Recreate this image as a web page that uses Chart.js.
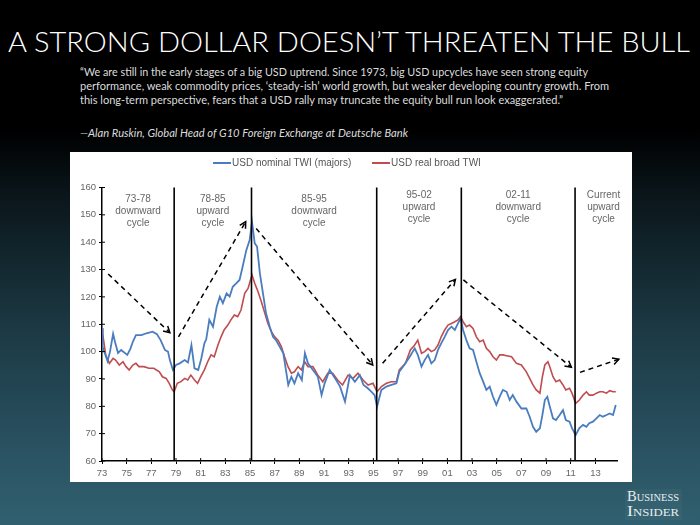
<!DOCTYPE html>
<html>
<head>
<meta charset="utf-8">
<script src="https://cdn.jsdelivr.net/npm/chart.js@4.4.1/dist/chart.umd.min.js"></script>
<style>
  html, body { margin: 0; padding: 0; }
  body {
    width: 700px; height: 525px; overflow: hidden; position: relative;
    background: linear-gradient(180deg, #000 0px, #000 130px, #0b171c 200px, #1c3944 330px, #2a5262 450px, #30606f 525px);
    font-family: Lato, 'Open Sans', sans-serif;
  }
  .fit { position: absolute; white-space: nowrap; transform-origin: 0 0; }
  #title { left: 8px; top: 27px; font-size: 28px; line-height: 28px; color: #fff; font-weight: 300; }
  .quote { left: 80px; font-size: 11px; line-height: 13.8px; color: #dcdcdc; }
  #panel { position: absolute; left: 70px; top: 152px; width: 562px; height: 330px; background: #fff; }
  #chart { position: absolute; left: 0; top: 0; }
  .leg { position: absolute; top: 5px; font: 10px 'Liberation Sans', Arial, sans-serif; color: #555; white-space: nowrap; }
  .leg i { display: inline-block; width: 18px; height: 0; border-top: 2px solid; vertical-align: middle; margin-right: 1px; }
  #bi { position: absolute; left: 625px; top: 489px; width: 57px; height: 31px; background: rgba(255,255,255,0.03); }
  .bi { left: 627px; font-family: 'Liberation Serif', 'DejaVu Serif', serif; font-variant: small-caps; font-size: 14px; line-height: 14px; color: #e8eef0; }
</style>
</head>
<body>
<div id="title" class="fit" data-w="682">A STRONG DOLLAR DOESN’T THREATEN THE BULL</div>
<div class="fit quote" style="top:65px" data-w="508">“We are still in the early stages of a big USD uptrend. Since 1973, big USD upcycles have seen strong equity</div>
<div class="fit quote" style="top:79px" data-w="529">performance, weak commodity prices, ‘steady-ish’ world growth, but weaker developing country growth. From</div>
<div class="fit quote" style="top:92.5px" data-w="483">this long-term perspective, fears that a USD rally may truncate the equity bull run look exaggerated.”</div>
<div class="fit quote" style="top:126px; font-style:italic" data-w="328">—Alan Ruskin, Global Head of G10 Foreign Exchange at Deutsche Bank</div>

<div id="panel">
  <canvas id="chart" width="562" height="330"></canvas>
  <div class="leg" style="left:143px"><i style="color:#4a7dbf"></i>USD nominal TWI (majors)</div>
  <div class="leg" style="left:302px"><i style="color:#bf4c4f"></i>USD real broad TWI</div>
</div>

<div id="bi"></div>
<div class="fit bi" style="top:490px" data-w="52">Business</div>
<div class="fit bi" style="top:505px" data-w="52">Insider</div>

<script>
const nominalYears = [
  1973.0, 1973.05, 1973.45, 1973.65, 1973.9, 1974.05, 1974.3, 1974.55, 1975.05, 1975.3,
  1975.5, 1975.75, 1976.2, 1976.6, 1977.1, 1977.45, 1977.75, 1978.1, 1978.35, 1978.5,
  1978.75, 1979.0, 1979.3, 1979.7, 1979.97, 1980.25, 1980.5, 1980.8, 1981.05, 1981.3,
  1981.45, 1981.7, 1982.0, 1982.3, 1982.55, 1982.8, 1983.1, 1983.35, 1983.6, 1983.9,
  1984.15, 1984.4, 1984.7, 1984.97, 1985.16, 1985.38, 1985.57, 1985.8, 1986.05, 1986.3,
  1986.6, 1986.86, 1987.1, 1987.4, 1987.7, 1987.95, 1988.1, 1988.35, 1988.6, 1988.9,
  1989.2, 1989.45, 1989.7, 1990.1, 1990.5, 1990.8, 1991.05, 1991.46, 1991.9, 1992.3,
  1992.7, 1993.1, 1993.5, 1993.9, 1994.2, 1994.55, 1994.85, 1995.1, 1995.3, 1995.65,
  1996.06, 1996.46, 1996.87, 1997.1, 1997.5, 1997.95, 1998.35, 1998.6, 1998.9, 1999.16,
  1999.43, 1999.7, 1999.97, 2000.24, 2000.5, 2000.78, 2001.05, 2001.33, 2001.6, 2001.86,
  2002.08, 2002.27, 2002.54, 2002.8, 2003.08, 2003.35, 2003.62, 2003.9, 2004.16, 2004.43,
  2004.7, 2004.97, 2005.24, 2005.5, 2005.8, 2006.05, 2006.3, 2006.6, 2007.0, 2007.4,
  2007.67, 2007.94, 2008.2, 2008.5, 2008.7, 2008.9, 2009.1, 2009.3, 2009.56, 2009.8,
  2010.1, 2010.37, 2010.6, 2010.9, 2011.1, 2011.4, 2011.7, 2012.0, 2012.27, 2012.5,
  2012.8, 2013.08, 2013.35, 2013.6, 2013.9, 2014.16, 2014.43, 2014.65
];
const nominalTwi = [
  108.5, 101.8, 96.5, 100, 106.5, 103.6, 99.5, 100.6, 98.8, 101,
  103.6, 106, 106, 106.7, 107.3, 106.4, 104.2, 100.6, 100, 96.9,
  93.3, 95.1, 95.7, 96.9, 96, 102.4, 93.9, 93.3, 97.5, 103,
  104.5, 111.6, 109.1, 116.4, 120.1, 117.7, 121.3, 120.1, 123.7, 125,
  126.2, 131, 137.1, 140.8, 147.5, 139.6, 138.4, 128.6, 121.3, 114,
  109.1, 105.4, 104.2, 101.8, 99.4, 92.1, 87.8, 90.8, 88.4, 92.1,
  89.6, 99.4, 95.7, 93.3, 90.8, 84.1, 88.4, 93.3, 90.2, 87.2,
  81.7, 91.4, 89, 91.4, 87.8, 86.6, 85.3, 84.1, 79.9, 86,
  87.2, 87.8, 88.4, 92.6, 95.1, 98.1, 101.2, 98.8, 94.5, 96.9,
  98.8, 95.7, 96.9, 100.6, 103, 105.4, 107.9, 109.1, 107.9, 110.3,
  112.2, 107.9, 104.2, 101.2, 100.6, 96.3, 92.1, 89, 86, 87.2,
  83.5, 80.5, 83.5, 86, 85.3, 82.3, 84.1, 81.7, 79.2, 79.2,
  76.2, 72.5, 70.7, 72, 76.8, 82.3, 83.5, 79.9, 75.6, 75,
  76.8, 78.6, 75, 74.4, 72, 69.5, 72, 73.2, 72.5, 73.8,
  74.4, 75.6, 76.8, 76.2, 76.8, 77.4, 76.8, 80.5
];

const realYears = [
  1973.0, 1973.05, 1973.3, 1973.6, 1973.9, 1974.1, 1974.4, 1974.7, 1974.95, 1975.2,
  1975.5, 1975.75, 1976.0, 1976.4, 1976.8, 1977.2, 1977.65, 1977.9, 1978.2, 1978.45,
  1978.7, 1978.85, 1979.1, 1979.4, 1979.7, 1979.95, 1980.2, 1980.5, 1980.75, 1981.0,
  1981.3, 1981.57, 1981.84, 1982.1, 1982.4, 1982.65, 1982.9, 1983.2, 1983.45, 1983.73,
  1984.0, 1984.27, 1984.57, 1984.84, 1985.16, 1985.38, 1985.65, 1985.92, 1986.2, 1986.45,
  1986.73, 1987.0, 1987.27, 1987.54, 1987.8, 1988.08, 1988.35, 1988.6, 1988.9, 1989.16,
  1989.43, 1989.7, 1990.1, 1990.5, 1990.9, 1991.3, 1991.7, 1992.1, 1992.5, 1992.95,
  1993.35, 1993.75, 1994.16, 1994.57, 1994.97, 1995.3, 1995.65, 1996.06, 1996.46, 1996.87,
  1997.1, 1997.6, 1998.0, 1998.35, 1998.6, 1998.9, 1999.16, 1999.43, 1999.7, 1999.97,
  2000.24, 2000.5, 2000.78, 2001.05, 2001.33, 2001.6, 2001.86, 2002.08, 2002.27, 2002.54,
  2002.8, 2003.08, 2003.35, 2003.62, 2003.9, 2004.16, 2004.43, 2004.7, 2004.97, 2005.24,
  2005.5, 2005.8, 2006.2, 2006.6, 2007.0, 2007.4, 2007.67, 2007.94, 2008.2, 2008.5,
  2008.7, 2008.9, 2009.15, 2009.3, 2009.56, 2009.8, 2010.1, 2010.37, 2010.6, 2010.9,
  2011.1, 2011.4, 2011.7, 2012.0, 2012.27, 2012.5, 2012.8, 2013.08, 2013.35, 2013.6,
  2013.9, 2014.16, 2014.43, 2014.65
];
const realTwi = [
  108.5, 106.7, 98.8, 95.7, 97.5, 96.9, 95.1, 96.3, 94.5, 93.3,
  95.1, 95.7, 94.5, 94.5, 93.9, 93.9, 92.6, 90.8, 90.2, 88.4,
  86, 85.3, 88.4, 89, 90.2, 89.6, 91.4, 89.6, 88.4, 90.8,
  93.3, 96.3, 98.8, 98.1, 102.4, 105.4, 107.9, 109.7, 111.6, 113.4,
  112.8, 115.2, 121.3, 123.1, 128, 125, 121.9, 118.2, 114, 110.3,
  107.3, 105.4, 104.2, 101.8, 98.1, 94.5, 92.1, 92.6, 94.5, 93.3,
  96.3, 94.5, 94.5, 91.4, 89, 92.1, 92.1, 89.6, 87.8, 91.4,
  90.2, 92.1, 89.6, 87.8, 88.4, 85.3, 87.2, 88.4, 89, 89,
  93.3, 95.7, 100.6, 102.4, 104.2, 99.4, 100, 101.2, 100, 100.6,
  102.4, 105.4, 107.9, 109.7, 110.3, 110.9, 111.6, 112.8, 110.9, 109.1,
  109.7, 108.5, 105.4, 103.6, 104.2, 101.2, 100, 98.1, 96.9, 98.8,
  98.8, 98.5, 98.1, 95.7, 95.1, 92.6, 90.2, 87.8, 86, 84.8,
  90.8, 95.1, 96.3, 94.5, 90.8, 89, 89.6, 87.8, 86, 86.6,
  84.8, 81.1, 82.3, 84.1, 85.3, 84.1, 84.1, 84.8, 85.3, 85.3,
  84.8, 85.7, 85.3, 85.3
];

const xTickYears = [1973, 1975, 1977, 1979, 1981, 1983, 1985, 1987, 1989, 1991, 1993,
  1995, 1997, 1999, 2001, 2003, 2005, 2007, 2009, 2011, 2013];

const cycleBreaks = [1978.85, 1985.12, 1995.27, 2002.13, 2011.35];
const cycleNames = [
  ['73-78', 'downward', 'cycle'],
  ['78-85', 'upward', 'cycle'],
  ['85-95', 'downward', 'cycle'],
  ['95-02', 'upward', 'cycle'],
  ['02-11', 'downward', 'cycle'],
  ['Current', 'upward', 'cycle']
];

// dashed trend arrows, [year, index]
const arrowFrom = [[1973.5, 128.4], [1979.2, 105.4], [1985.5, 145], [1995.75, 95.7], [2002.3, 126.2], [2011.75, 92.4]];
const arrowTo = [[1978.5, 106.9], [1984.65, 147.5], [1994.95, 95.1], [2001.65, 126.4], [2011.05, 94.3], [2014.9, 97.2]];

const blue = '#4a7dbf';
const red = '#bf4c4f';

Chart.defaults.font.family = "'Liberation Sans', Arial, sans-serif";
Chart.defaults.color = '#666';

const overlay = {
  id: 'overlay',
  afterDatasetsDraw(chart) {
    const {ctx, chartArea, scales: {x, y}} = chart;
    ctx.save();

    // cycle separators
    ctx.strokeStyle = '#000';
    ctx.lineWidth = 1.6;
    cycleBreaks.forEach(yr => {
      const px = x.getPixelForValue(yr);
      ctx.beginPath();
      ctx.moveTo(px, y.getPixelForValue(160));
      ctx.lineTo(px, y.getPixelForValue(60));
      ctx.stroke();
    });

    // cycle names
    const edges = [x.min, ...cycleBreaks];
    ctx.fillStyle = '#666';
    ctx.font = "10px 'Liberation Sans', Arial, sans-serif";
    ctx.textAlign = 'center';
    ctx.textBaseline = 'middle';
    cycleNames.forEach((lines, i) => {
      const left = x.getPixelForValue(edges[i]);
      const right = i + 1 < edges.length ? x.getPixelForValue(edges[i + 1]) : chart.width;
      const cx = (left + right) / 2;
      const top = chartArea.top + (i < 3 ? 11.5 : 7.5);
      lines.forEach((t, j) => ctx.fillText(t, cx, top + j * 12));
    });

    // arrows
    ctx.lineWidth = 1.5;
    arrowFrom.forEach((a, i) => {
      const x0 = x.getPixelForValue(a[0]), y0 = y.getPixelForValue(a[1]);
      const x1 = x.getPixelForValue(arrowTo[i][0]), y1 = y.getPixelForValue(arrowTo[i][1]);
      ctx.setLineDash([5, 4]);
      ctx.beginPath();
      ctx.moveTo(x0, y0);
      ctx.lineTo(x1, y1);
      ctx.stroke();
      const ang = Math.atan2(y1 - y0, x1 - x0);
      ctx.setLineDash([]);
      ctx.beginPath();
      ctx.moveTo(x1 - 7 * Math.cos(ang - 0.5), y1 - 7 * Math.sin(ang - 0.5));
      ctx.lineTo(x1, y1);
      ctx.lineTo(x1 - 7 * Math.cos(ang + 0.5), y1 - 7 * Math.sin(ang + 0.5));
      ctx.stroke();
    });

    // inner half of the tick marks
    ctx.lineWidth = 1;
    y.ticks.forEach(t => {
      const py = y.getPixelForValue(t.value);
      ctx.beginPath(); ctx.moveTo(chartArea.left, py); ctx.lineTo(chartArea.left + 3, py); ctx.stroke();
    });
    x.ticks.forEach(t => {
      const px = x.getPixelForValue(t.value);
      ctx.beginPath(); ctx.moveTo(px, chartArea.bottom); ctx.lineTo(px, chartArea.bottom - 3); ctx.stroke();
    });
    ctx.restore();
  }
};

const data = {
  datasets: [{
    label: 'USD nominal TWI (majors)',
    data: nominalYears.map((yr, i) => ({x: yr, y: nominalTwi[i]})),
    borderColor: blue,
    backgroundColor: blue,
    borderWidth: 1.8
  }, {
    label: 'USD real broad TWI',
    data: realYears.map((yr, i) => ({x: yr, y: realTwi[i]})),
    borderColor: red,
    backgroundColor: red,
    borderWidth: 1.6
  }]
};

const config = {
  type: 'line',
  data,
  options: {
    responsive: false,
    animation: false,
    layout: { padding: { left: 0, right: 15, top: 35.5, bottom: 0 } },
    elements: { point: { radius: 0 }, line: { tension: 0 } },
    plugins: { legend: { display: false }, tooltip: { enabled: false } },
    scales: {
      x: {
        type: 'linear',
        min: 1973,
        max: 2014.75,
        afterBuildTicks: axis => { axis.ticks = xTickYears.map(v => ({value: v})); },
        afterFit: axis => { axis.height = 21; },
        grid: { drawOnChartArea: false, tickLength: 3, color: '#000' },
        border: { color: '#000', width: 1.5 },
        ticks: {
          padding: 4,
          maxRotation: 0,
          autoSkip: false,
          font: { size: 9.5 },
          color: '#666',
          callback: v => String(v % 100).padStart(2, '0')
        }
      },
      y: {
        min: 60,
        max: 160,
        afterFit: axis => { axis.width = 32; },
        grid: { drawOnChartArea: false, tickLength: 3, color: '#000' },
        border: { color: '#000', width: 1.5 },
        ticks: { stepSize: 10, padding: 3, font: { size: 9.5 }, color: '#666' }
      }
    }
  },
  plugins: [overlay]
};

var twiChart = new Chart(document.getElementById('chart').getContext('2d'), config);

function fitText() {
  document.querySelectorAll('.fit').forEach(el => {
    el.style.transform = '';
    const w = el.getBoundingClientRect().width;
    el.style.transform = 'scaleX(' + (el.dataset.w / w) + ')';
  });
}
fitText();
if (document.fonts) document.fonts.ready.then(fitText);
</script>
</body>
</html>
